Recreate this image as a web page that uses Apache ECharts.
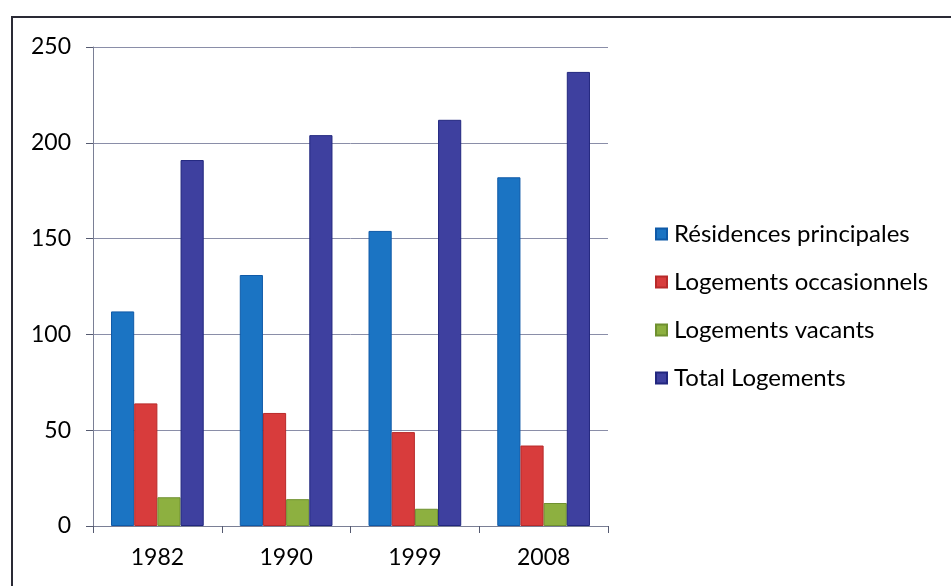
<!DOCTYPE html>
<html>
<head>
<meta charset="utf-8">
<script src="https://cdn.jsdelivr.net/npm/echarts@6/dist/echarts.min.js"></script>
<style>
html,body{margin:0;padding:0;background:#fff;}
#c{width:951px;height:586px;}
</style>
</head>
<body>
<div id="c"></div>
<script>
const categories = ['1982', '1990', '1999', '2008'];
const residencesPrincipales = [112, 131, 154, 182];
const logementsOccasionnels = [64, 59, 49, 42];
const logementsVacants = [15, 14, 9, 12];
const totalLogements = [191, 204, 212, 237];
const seriesNames = ['Résidences principales', 'Logements occasionnels', 'Logements vacants', 'Total Logements'];
const yTicks = { min: 0, max: 250, interval: 50 };

const colors = ['#1B74C3', '#D83C3C', '#8DB040', '#3E409F'];
const borders = ['#0F5AA8', '#B82A2A', '#6F9030', '#22277F'];
const font = 'Lato, "Open Sans", sans-serif';

const chart = echarts.init(document.getElementById('c'));
const dataSets = [residencesPrincipales, logementsOccasionnels, logementsVacants, totalLogements];

chart.setOption({
  animation: false,
  backgroundColor: '#fff',
  textStyle: { fontFamily: font },
  graphic: [{
    type: 'rect',
    shape: { x: 12, y: 17, width: 960, height: 600 },
    style: { fill: 'none', stroke: '#2a2a35', lineWidth: 2 },
    silent: true
  }],
  grid: { left: 93, right: 343, top: 47, bottom: 60, containLabel: false },
  legend: {
    orient: 'vertical',
    left: 655,
    top: 222,
    padding: 0,
    itemWidth: 11,
    itemHeight: 11,
    itemGap: 24,
    icon: 'rect',
    textStyle: { fontFamily: font, fontSize: 24, fontWeight: 'normal', color: '#000', padding: [0, 0, 0, 2] },
    data: seriesNames
  },
  xAxis: {
    type: 'category',
    data: categories,
    axisLine: { lineStyle: { color: '#7a7f95', width: 1 } },
    axisTick: { show: true, alignWithLabel: false, length: 7, inside: false, lineStyle: { color: '#555a70' } },
    axisLabel: { fontFamily: font, fontSize: 23, color: '#000', margin: 20 },
    splitLine: { show: false }
  },
  yAxis: {
    type: 'value',
    min: yTicks.min,
    max: yTicks.max,
    interval: yTicks.interval,
    axisLine: { show: true, lineStyle: { color: '#7a7f95', width: 1 } },
    axisTick: { show: true, length: 7, lineStyle: { color: '#555a70' } },
    axisLabel: { fontFamily: font, fontSize: 23, color: '#000', margin: 22 },
    splitLine: { show: true, lineStyle: { color: '#8a8ea8', width: 1 } }
  },
  series: seriesNames.map((name, i) => ({
    name: name,
    type: 'bar',
    data: dataSets[i],
    barGap: '0%',
    barCategoryGap: '28%',
    itemStyle: { color: colors[i], borderColor: borders[i], borderWidth: 1 }
  }))
});
</script>
</body>
</html>
